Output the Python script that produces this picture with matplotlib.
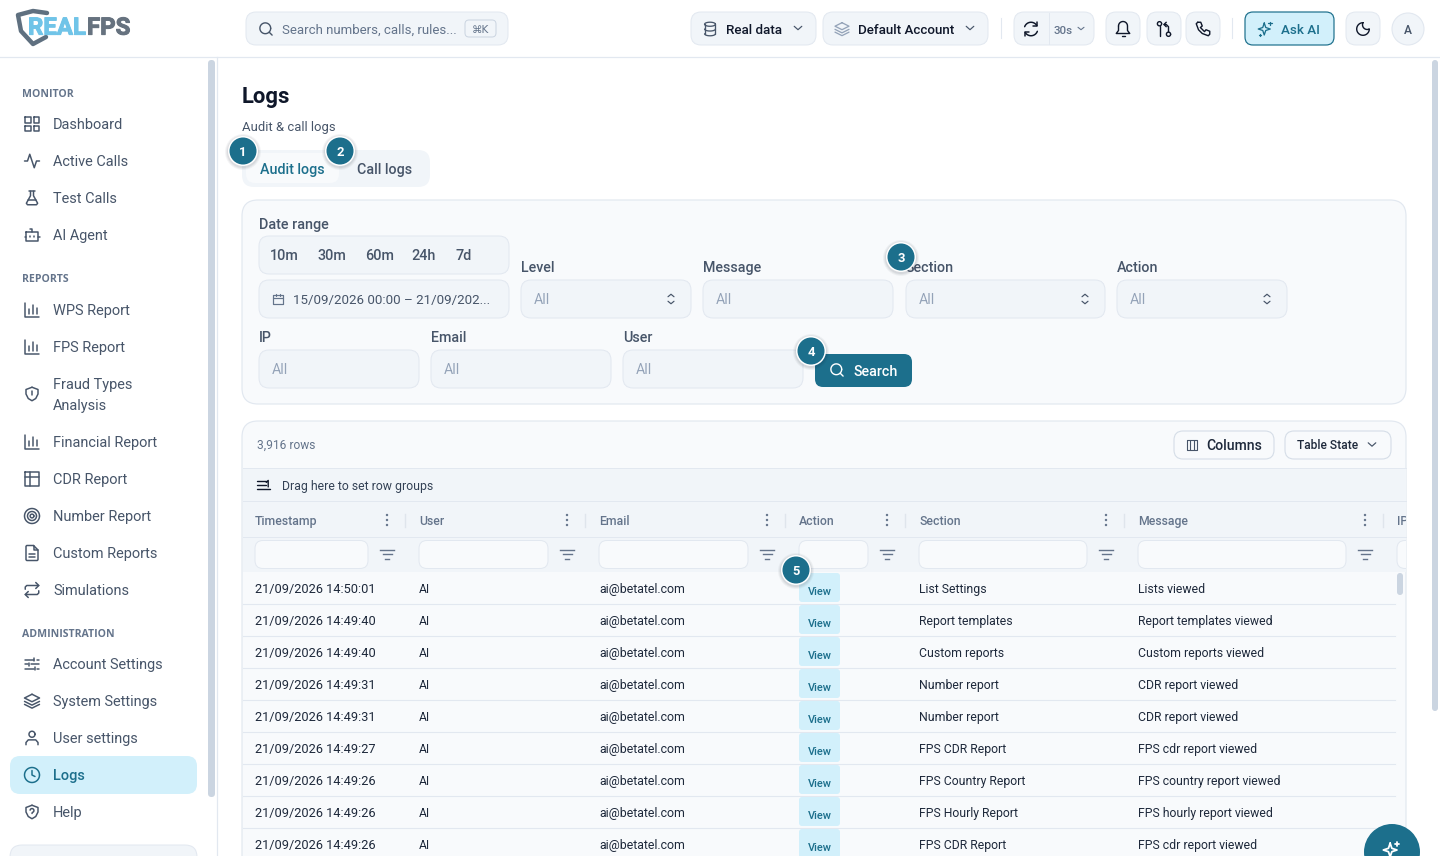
import numpy as np
import matplotlib
matplotlib.use("Agg")
import matplotlib.pyplot as plt
import matplotlib.patheffects as pe
from matplotlib.patches import FancyBboxPatch, Circle, Rectangle

FONT = "Roboto"
INK = "#0f172a"; SLATE = "#475569"; MUTED = "#64748b"; FAINT = "#94a3b8"
TEAL = "#1c6f8c"; SKY = "#d2f0fb"; PANEL = "#f1f5f9"; CARD = "#f8fafc"; EDGE = "#e2e8f0"

# ---------- data ----------
timestamps = ["21/09/2026 14:50:01", "21/09/2026 14:49:40", "21/09/2026 14:49:40",
              "21/09/2026 14:49:31", "21/09/2026 14:49:31", "21/09/2026 14:49:27",
              "21/09/2026 14:49:26", "21/09/2026 14:49:26", "21/09/2026 14:49:26"]
users = ["AI"] * 9
emails = ["ai@betatel.com"] * 9
actions = ["View"] * 9
sections = ["List Settings", "Report templates", "Custom reports", "Number report",
            "Number report", "FPS CDR Report", "FPS Country Report", "FPS Hourly Report",
            "FPS CDR Report"]
messages = ["Lists viewed", "Report templates viewed", "Custom reports viewed",
            "CDR report viewed", "CDR report viewed", "FPS cdr report viewed",
            "FPS country report viewed", "FPS hourly report viewed", "FPS cdr report viewed"]
columns = ["Timestamp", "User", "Email", "Action", "Section", "Message"]
monitor_items = ["Dashboard", "Active Calls", "Test Calls", "AI Agent"]
report_items = ["WPS Report", "FPS Report", "Fraud Types\nAnalysis", "Financial Report",
                "CDR Report", "Number Report", "Custom Reports", "Simulations"]
admin_items = ["Account Settings", "System Settings", "User settings", "Logs", "Help"]
quick_ranges = ["10m", "30m", "60m", "24h", "7d"]

# ---------- canvas ----------
fig = plt.figure(figsize=(14.4, 8.56), dpi=100, facecolor="white")
ax = fig.add_axes([0, 0, 1, 1])
ax.set_xlim(0, 1440); ax.set_ylim(856, 0); ax.axis("off")


def box(x0, y0, x1, y1, r=8, fc="white", ec=EDGE, lw=1.0, z=1, **kw):
    p = FancyBboxPatch((x0, y0), x1 - x0, y1 - y0, boxstyle=f"round,pad=0,rounding_size={r}",
                       fc=fc, ec=ec, lw=lw * 0.72, zorder=z, **kw)
    ax.add_patch(p)
    return p


def txt(x, y, s, px=14, color=SLATE, weight="normal", ha="left", z=5, family=FONT, **kw):
    if weight == "semibold":
        weight = "medium"
    return ax.text(x, y + px * 0.36, s, fontsize=px * 0.72, color=color, fontweight=weight,
                   ha=ha, va="baseline", zorder=z, family=family, **kw)


def arc(cx, cy, r, a0=0, a1=360, n=40, ry=None):
    a = np.radians(np.linspace(a0, a1, n))
    return list(zip(cx + r * np.cos(a), cy + (ry or r) * np.sin(a)))


def ic(cx, cy, paths, color=SLATE, lw=1.5, s=0.75, z=6):
    """paths use a 24-unit icon grid centred on (12, 12)."""
    for pts in paths:
        pts = np.array(pts, float)
        ax.plot(cx + (pts[:, 0] - 12) * s, cy + (pts[:, 1] - 12) * s, color=color, lw=lw * 0.72,
                solid_capstyle="round", solid_joinstyle="round", zorder=z)


def rect(x0, y0, x1, y1):
    return [(x0, y0), (x1, y0), (x1, y1), (x0, y1), (x0, y0)]


I_GRID = [rect(3, 3, 10, 10), rect(14, 3, 21, 10), rect(3, 14, 10, 21), rect(14, 14, 21, 21)]
I_PULSE = [[(2, 12), (6, 12), (9, 3), (15, 21), (18, 12), (22, 12)]]
I_FLASK = [[(8, 3), (16, 3)], [(10, 3), (10, 9), (4.5, 19), (6, 21), (18, 21), (19.5, 19), (14, 9), (14, 3)], [(7, 15), (17, 15)]]
I_BOT = [rect(4, 8, 20, 20), [(12, 8), (12, 4), (9, 4)], [(2, 14), (4, 14)], [(20, 14), (22, 14)], [(9, 13), (9, 15)], [(15, 13), (15, 15)]]
I_BARS = [[(3, 3), (3, 21), (21, 21)], [(8, 17), (8, 11)], [(13, 17), (13, 5)], [(18, 17), (18, 9)]]
I_SHIELD = [[(12, 3), (20, 6), (20, 12), (17, 18), (12, 21), (7, 18), (4, 12), (4, 6), (12, 3)], [(12, 8), (12, 13)], [(12, 16), (12, 16.3)]]
I_TABLE = [rect(3, 3, 21, 21), [(3, 9), (21, 9)], [(9, 3), (9, 21)]]
I_TARGET = [arc(12, 12, 10), arc(12, 12, 6), arc(12, 12, 2.5)]
I_FILE = [[(14, 2), (5, 2), (4, 3), (4, 21), (5, 22), (19, 22), (20, 21), (20, 8), (14, 2)], [(14, 2), (14, 8), (20, 8)], [(8, 13), (16, 13)], [(8, 17), (16, 17)]]
I_REPEAT = [[(3, 11), (3, 8), (5, 6), (21, 6)], [(17, 2), (21, 6), (17, 10)], [(21, 13), (21, 16), (19, 18), (3, 18)], [(7, 14), (3, 18), (7, 22)]]
I_SLIDERS = [[(3, 6), (14, 6)], [(18, 6), (21, 6)], [(14, 4), (14, 8)], [(3, 12), (6, 12)], [(10, 12), (21, 12)], [(8, 10), (8, 14)], [(3, 18), (15, 18)], [(19, 18), (21, 18)], [(16, 16), (16, 20)]]
I_LAYERS = [[(12, 3), (22, 8), (12, 13), (2, 8), (12, 3)], [(2, 12.5), (12, 17.5), (22, 12.5)], [(2, 16.5), (12, 21.5), (22, 16.5)]]
I_USER = [arc(12, 7, 4), [(4, 21), (4, 18), (7, 14.5), (17, 14.5), (20, 18), (20, 21)]]
I_CLOCK = [arc(12, 12, 10), [(12, 6), (12, 12), (16, 14)]]
I_HELP = [[(12, 3), (20, 6), (20, 12), (17, 18), (12, 21), (7, 18), (4, 12), (4, 6), (12, 3)], arc(12, 10, 2.6, -170, 80, 12) + [(12, 14)], [(12, 16.8), (12, 17)]]
I_DB = [arc(12, 5, 8, ry=3), [(4, 5), (4, 19)], [(20, 5), (20, 19)], arc(12, 19, 8, 0, 180, 16, ry=3), arc(12, 12, 8, 0, 180, 16, ry=3)]
I_REFRESH = [arc(12, 12, 9, 200, 330, 16), arc(12, 12, 9, 20, 150, 16), [(20, 3), (20, 8), (15, 8)], [(4, 21), (4, 16), (9, 16)]]
I_BELL = [[(6, 8)] + arc(12, 8, 6, 180, 360, 14) + [(18, 14), (21, 18), (3, 18), (6, 14), (6, 8)], [(10, 21), (14, 21)]]
I_GIT = [arc(6, 5, 2.8), [(6, 8), (6, 21)], arc(18, 19, 2.8), [(18, 16), (18, 9), (15, 6), (12, 6)], [(15, 3), (12, 6), (15, 9)]]
I_PHONE = [[(5, 3), (9, 3), (11, 8), (8.5, 10), (14, 15.5), (16, 13), (21, 15), (21, 19), (19, 21), (11, 18), (6, 13), (3, 5), (5, 3)]]
I_SPARK = [[(11, 4), (13, 10), (19, 12), (13, 14), (11, 20), (9, 14), (3, 12), (9, 10), (11, 4)], [(19, 2), (19, 7)], [(16.5, 4.5), (21.5, 4.5)], [(5, 18), (5, 21)], [(3.5, 19.5), (6.5, 19.5)]]
I_MOON = [arc(12, 12, 9, 270, 0, 30) + arc(18, 6, 6.7, 63, 207, 14)]
I_CAL = [rect(3, 5, 21, 21), [(3, 10), (21, 10)], [(8, 2), (8, 6)], [(16, 2), (16, 6)]]
I_COLS = [rect(3, 3, 21, 21), [(9, 3), (9, 21)], [(15, 3), (15, 21)]]
I_GROUP = [[(2, 6), (16, 6)], [(2, 12), (16, 12)], [(2, 18), (22, 18)], [(20, 15), (20, 5), (17, 8)]]


def chevron(cx, cy, color=SLATE, w=3.8, h=3.4, lw=1.2, up=False):
    d = -h if up else h
    ax.plot([cx - w, cx, cx + w], [cy - d / 2, cy + d / 2, cy - d / 2], color=color, lw=lw * 0.72,
            zorder=6, solid_capstyle="round", solid_joinstyle="round")


def updown(cx, cy):
    chevron(cx, cy - 3.5, SLATE, 3, 2.5, 1.2, up=True)
    chevron(cx, cy + 3.5, SLATE, 3, 2.5, 1.2)


def badge(cx, cy, label):
    for r, a in [(18, .04), (17, .05), (16, .06)]:
        ax.add_patch(Circle((cx, cy + 1), r, fc="#0f172a", ec="none", alpha=a, zorder=20))
    ax.add_patch(Circle((cx, cy), 15, fc="white", ec="none", zorder=21))
    ax.add_patch(Circle((cx, cy), 13.5, fc=TEAL, ec="none", zorder=22))
    txt(cx, cy, label, 13, "white", "bold", ha="center", z=23)


# ---------- top bar ----------
ax.plot([0, 1440], [57, 57], color=EDGE, lw=0.9, zorder=3)
ax.plot([217, 217], [57, 856], color=EDGE, lw=0.9, zorder=3)

ax.plot([47, 33, 18, 21, 33, 46], [13, 11, 15, 31, 44, 37], color="#5f7080", lw=3.2, zorder=2,
        solid_joinstyle="round", solid_capstyle="round")
halo = [pe.withStroke(linewidth=0.7, foreground="#70c4e8")]
halo2 = [pe.withStroke(linewidth=0.7, foreground="#66727f")]
txt(28, 26, "REAL", 24, "#70c4e8", "bold", z=3, path_effects=halo)
txt(87, 26, "FPS", 24, "#66727f", "bold", z=3, path_effects=halo2)

box(246, 12, 508, 45, 10, PANEL)
ic(266, 29, [arc(11, 11, 7.5), [(20.5, 20.5), (16.5, 16.5)]], SLATE, 1.4, 0.72)
txt(282, 29.5, "Search numbers, calls, rules...", 13.2, MUTED)
box(465, 20, 496, 37, 4, PANEL, "#cbd5e1")
txt(480.5, 29, "⌘K", 10.5, MUTED, ha="center", family="DejaVu Sans")

box(691, 12, 816, 45, 10, PANEL)
ic(710, 29, I_DB, SLATE, 1.3, 0.68)
txt(726, 29.5, "Real data", 13.4, INK, "semibold")
chevron(798, 28, SLATE)
box(823, 12, 988, 45, 10, PANEL)
ic(842, 29, I_LAYERS, FAINT, 1.3, 0.7)
txt(858, 29.5, "Default Account", 13.4, INK, "semibold")
chevron(970, 28, SLATE)
ax.plot([1001, 1001], [18, 38], color=EDGE, lw=0.8, zorder=3)
box(1014, 12, 1094, 45, 10, PANEL)
ax.plot([1049, 1049], [13, 44], color=EDGE, lw=0.7, zorder=3)
ic(1031, 29, I_REFRESH, INK, 1.5, 0.75)
txt(1054, 29.5, "30s", 11.5, MUTED, "semibold")
chevron(1081, 28.5, MUTED, 3, 2.4, 1.1)
for x0, icon in [(1106, I_BELL), (1147, I_GIT), (1186, I_PHONE)]:
    box(x0, 12, x0 + 34, 45, 10, PANEL)
    ic(x0 + 17, 29, icon, INK, 1.4, 0.75)
ax.plot([1232, 1232], [18, 38], color=EDGE, lw=0.8, zorder=3)
box(1245, 12, 1334, 45, 8, SKY, TEAL, 1.2)
ic(1265, 29, I_SPARK, TEAL, 1.3, 0.75)
txt(1281, 29.5, "Ask AI", 13.4, TEAL, "semibold")
box(1346, 12, 1380, 45, 10, PANEL)
ic(1363, 29, I_MOON, INK, 1.4, 0.7)
ax.add_patch(Circle((1408, 29), 16, fc=PANEL, ec=EDGE, lw=0.8, zorder=2))
txt(1408, 29.5, "A", 12, SLATE, "semibold", ha="center")

# ---------- sidebar ----------
box(208, 60, 215, 797, 3.5, "#cbd5e1", "none", z=2)
box(1432, 60, 1438, 711, 3, "#cbd5e1", "none", z=2)

txt(22, 93, "MONITOR", 10.5, MUTED, "bold", family="Open Sans")
txt(22, 278, "REPORTS", 10.5, MUTED, "bold", family="Open Sans")
txt(22, 633, "ADMINISTRATION", 10.5, MUTED, "bold", family="Open Sans")

box(10, 756, 197, 794, 10, SKY, "none", z=1)
box(10, 845, 197, 880, 12, PANEL, EDGE, z=1)

NAV_PX = 14.5
for label, y, icon in zip(monitor_items, [124, 161, 198, 235], [I_GRID, I_PULSE, I_FLASK, I_BOT]):
    ic(32, y, icon)
    txt(53, y, label, NAV_PX, SLATE)
report_y = [310, 347, 394, 442, 479, 516, 553, 590]
report_icons = [I_BARS, I_BARS, I_SHIELD, I_BARS, I_TABLE, I_TARGET, I_FILE, I_REPEAT]
for label, y, icon in zip(report_items, report_y, report_icons):
    ic(32, y, icon)
    parts = label.split("\n")
    if len(parts) == 2:
        txt(53, y - 10, parts[0], NAV_PX, SLATE)
        txt(53, y + 11, parts[1], NAV_PX, SLATE)
    else:
        txt(53, y, label, NAV_PX, SLATE)
for label, y, icon in zip(admin_items, [664, 701, 738, 775, 812],
                          [I_SLIDERS, I_LAYERS, I_USER, I_CLOCK, I_HELP]):
    active = label == "Logs"
    ic(32, y, icon, TEAL if active else SLATE)
    txt(53, y, label, NAV_PX, TEAL if active else SLATE, "semibold" if active else "normal")

# ---------- page head ----------
txt(242, 95.5, "Logs", 22, INK, "bold")
txt(242, 126.5, "Audit & call logs", 13, SLATE)
box(242, 150, 430, 187, 12, PANEL, "none")
box(246, 153, 339, 183, 9, CARD, "none", z=2)
txt(260, 169, "Audit logs", 14.2, TEAL, "semibold")
txt(357, 169, "Call logs", 14.2, SLATE, "semibold")

# ---------- filter card ----------
box(242, 200, 1406, 404, 16, CARD, EDGE, 1.2)
txt(259, 224, "Date range", 14.4, SLATE, "semibold")
box(259, 236, 509, 274, 10, PANEL)
for label, x in zip(quick_ranges, [270, 317, 365, 411, 455]):
    txt(x, 255, label, 14.4, SLATE, "semibold")
box(259, 280, 509, 318, 10, PANEL)
ic(278, 299, I_CAL, MUTED, 1.2, 0.55)
txt(293, 299, "15/09/2026 00:00 – 21/09/202...", 13.4, SLATE)

row1 = [("Level", 521, 691, True), ("Message", 703, 893, False),
        ("Section", 906, 1105, True), ("Action", 1117, 1287, True)]
for label, x0, x1, has_chev in row1:
    txt(x0, 267, label, 14.3, SLATE, "semibold")
    box(x0, 280, x1, 318, 10, PANEL)
    txt(x0 + 13, 299, "All", 14, FAINT)
    if has_chev:
        updown(x1 - 20, 299)
row2 = [("IP", 259, 419), ("Email", 431, 611), ("User", 623, 803)]
for label, x0, x1 in row2:
    txt(x0, 337, label, 14.3, SLATE, "semibold")
    box(x0, 350, x1, 388, 10, PANEL)
    txt(x0 + 13, 369, "All", 14, FAINT)
box(815, 354, 912, 387, 8, TEAL, "none", z=2)
ic(837, 370, [arc(11, 11, 7.5), [(20.5, 20.5), (16.5, 16.5)]], "white", 1.4, 0.72)
txt(853, 371, "Search", 14.3, "white", "semibold")

# ---------- table card ----------
card = box(242, 421, 1406, 900, 16, CARD, EDGE, 1.2)
txt(257, 444.5, "3,916 rows", 12, MUTED)
box(1174, 431, 1274, 459, 9, CARD, "#d5dde7", 1.1, z=2)
ic(1192, 445, I_COLS, SLATE, 1.1, 0.55)
txt(1206, 445, "Columns", 14, "#1e293b", "semibold")
box(1285, 431, 1391, 459, 9, CARD, "#d5dde7", 1.1, z=2)
txt(1297, 445, "Table State", 12, "#1e293b", "semibold")
chevron(1372, 444.5, SLATE)

clip = Rectangle((243, 421), 1162.5, 435, transform=ax.transData)
hdr = Rectangle((243, 467.5), 1162.5, 104.5, fc=PANEL, ec="none", zorder=2)
ax.add_patch(hdr)
for y in [467.5, 501, 537]:
    ax.plot([243, 1405.5], [y, y], color=EDGE, lw=0.7, zorder=3)
ic(263, 485, I_GROUP, INK, 1.4, 0.65)
txt(282, 486, "Drag here to set row groups", 12.2, "#334155")

col_x = [255, 419, 599, 799, 919, 1138]
kebab_x = [387, 567, 767, 887, 1106, 1365]
sep_x = [405, 585, 785, 905, 1124, 1383]
input_x1 = [368, 548, 748, 868, 1087, 1346]
for label, x, kx, sx, x1 in zip(columns, col_x, kebab_x, sep_x, input_x1):
    txt(x, 521, label, 12.2, MUTED, "semibold")
    for dy in (-5, 0, 5):
        ax.add_patch(Circle((kx, 520 + dy), 1.2, fc=MUTED, ec="none", zorder=5))
    ax.plot([sx, sx], [514, 527], color="#dfe5ec", lw=1.0, zorder=4)
    box(x, 540.5, x1, 568.5, 8, CARD, EDGE, z=4)
    for w, yy in [(7, 549.5), (4.5, 554), (2, 558.5)]:
        ax.plot([kx - w, kx + w], [yy, yy], color=MUTED, lw=1.0, zorder=5)
ip_head = txt(1397, 521, "IP", 12, MUTED, "semibold")
ip_head.set_clip_path(clip)
ip_head.set_clip_on(True)
ip_box = box(1397, 540.5, 1460, 568.5, 8, CARD, EDGE, z=4)
ip_box.set_clip_path(clip)

row_y = 589
for i in range(len(timestamps)):
    y = row_y + 32 * i
    ax.plot([243, 1395], [y + 14.5, y + 14.5], color=EDGE, lw=0.8, zorder=3)
    txt(255, y - 0.5, timestamps[i], 12.7, "#1e293b")
    txt(419, y, users[i], 12, "#1e293b")
    txt(599, y, emails[i], 12.4, "#1e293b")
    box(799, y - 16, 840, y + 13, 3, SKY, "none", z=4)
    txt(819.5, y + 2, actions[i], 11, TEAL, "semibold", ha="center")
    txt(919, y, sections[i], 12.2, "#1e293b")
    txt(1138, y, messages[i], 12.2, "#1e293b")
box(1397, 573, 1403, 595, 3, "#cbd5e1", "none", z=4)

# ---------- floating button & step badges ----------
ax.add_patch(Circle((1392, 852), 28, fc=TEAL, ec="none", zorder=15))
ic(1391, 850, [[(11, 4), (13, 10), (19, 12), (13, 14), (11, 20), (9, 14), (3, 12), (9, 10), (11, 4)], [(19, 2), (19, 7)], [(16.5, 4.5), (21.5, 4.5)]], "white", 1.8, 0.85, z=16)
for label, (cx, cy) in zip("12345", [(243, 151), (340, 151), (901, 257), (811, 351), (796, 570)]):
    badge(cx, cy, label)

fig.savefig("out.png", dpi=100, facecolor="white")
